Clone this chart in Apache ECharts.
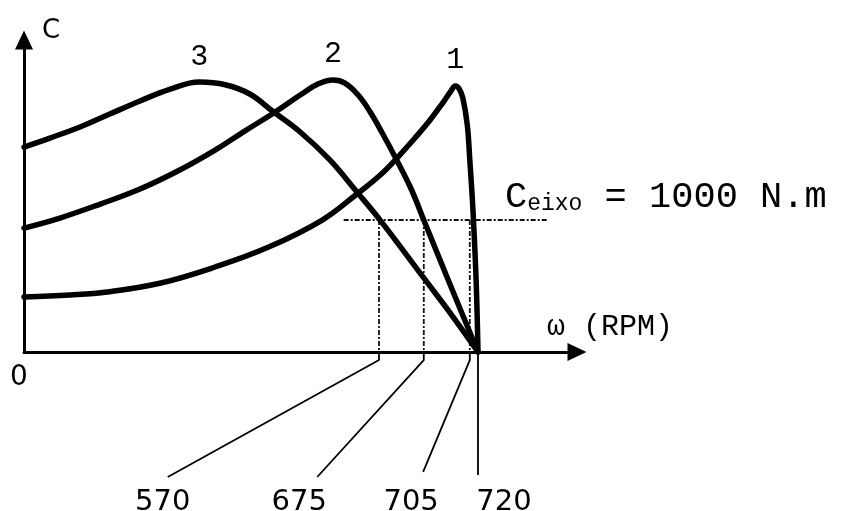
<!DOCTYPE html>
<html>
<head>
<meta charset="utf-8">
<script src="https://cdn.jsdelivr.net/npm/echarts@6/dist/echarts.min.js"></script>
<style>
html, body { margin: 0; background: #fff; }
#main { width: 841px; height: 511px; }
</style>
</head>
<body>
<div id="main"></div>
<script>
// torque (N.m) vs speed (RPM) - the figure is a sketch, not to scale
var curveNames = ['1', '2', '3'];
var curve1 = [[0,417],[73,432],[132,455],[217,523],[303,644],[388,795],[473,1000],[528,1197],[565,1341],
    [593,1477],[620,1621],[644,1758],[665,1894],[676,1970],[684,2015],[690,1995],[696,1924],[703,1720],
    [707,1455],[712,1076],[717,545],[720,0]];
var curve2 = [[0,939],[57,1015],[121,1121],[184,1235],[247,1379],[303,1530],[350,1674],[396,1811],
    [438,1947],[466,2030],[490,2061],[509,2038],[530,1947],[549,1818],[569,1652],[591,1455],[614,1235],
    [634,1000],[676,508],[720,0]];
var curve3 = [[0,1553],[41,1621],[89,1705],[136,1803],[184,1902],[232,1992],[278,2045],[319,2025],
    [358,1955],[396,1818],[438,1667],[485,1455],[528,1212],[566,992],[634,561],[676,295],[720,0]];

var loadTorque = 1000;
var loadLineX = [507, 831];

var speedLabels = ['570', '675', '705', '720'];
var speedDrawn = [563, 634, 707, 720];   // where the drops sit in the sketch

// leader lines below the axis (axis units), and label nudges
var leaderBend = -61;
var leaderEnds = [[228, -947], [465, -947], [633, -909], [720, -932]];
var leaderNudge = [[-5, 6], [-18, 6], [-12, 11], [26, 8]];

var myChart = echarts.init(document.getElementById('main'));

var black = '#000';
var mono = 'Liberation Mono';
var sans = 'DejaVu Sans';

var series = [];

// dashed load line with its text
series.push({
    type: 'line',
    data: [[loadLineX[0], loadTorque], {
        value: [loadLineX[1], loadTorque],
        label: {
            show: true,
            position: 'top',
            distance: 4,
            align: 'left',
            offset: [-43, 0],
            formatter: '{b|C}{s|eixo}{b| = 1000 N.m}',
            rich: {
                b: { fontFamily: mono, fontSize: 37, color: black },
                s: { fontFamily: mono, fontSize: 23, color: black, verticalAlign: 'bottom' }
            }
        }
    }],
    symbol: 'circle',
    symbolSize: 1,
    itemStyle: { color: 'transparent' },
    lineStyle: { color: '#111', width: 1.8, type: [5, 2, 2, 2] },
    silent: true,
    z: 1
});

// dashed drops from the load line down to the axis
for (var i = 0; i < 3; i++) {
    series.push({
        type: 'line',
        data: [[speedDrawn[i], loadTorque], [speedDrawn[i], 0]],
        symbol: 'none',
        lineStyle: { color: '#111', width: 1.8, type: [5, 2, 2, 2] },
        silent: true,
        z: 1
    });
}

// leader lines to the speed labels
speedLabels.forEach(function (lab, k) {
    series.push({
        type: 'line',
        clip: false,
        data: [[speedDrawn[k], 0], [speedDrawn[k], leaderBend], {
            value: leaderEnds[k],
            label: {
                show: true,
                position: 'bottom',
                distance: 4,
                offset: leaderNudge[k],
                formatter: lab,
                fontFamily: sans,
                fontSize: 29,
                color: black
            }
        }],
        symbol: 'circle',
        symbolSize: 1,
        itemStyle: { color: 'transparent' },
        lineStyle: { color: black, width: 1.8 },
        silent: true,
        z: 1
    });
});

// torque curves
[curve1, curve2, curve3].forEach(function (d, k) {
    series.push({
        name: curveNames[k],
        type: 'line',
        data: d,
        smooth: 0.4,
        symbol: 'none',
        lineStyle: { color: black, width: 5.5, cap: 'round', join: 'round' },
        markPoint: {
            symbol: 'circle',
            symbolSize: 1,
            itemStyle: { color: 'transparent' },
            data: [{ type: 'max', valueDim: 'y' }],
            label: {
                show: true,
                position: 'top',
                distance: 10,
                formatter: curveNames[k],
                fontFamily: mono,
                fontSize: 30,
                color: black
            }
        },
        silent: true,
        z: 3
    });
});

option = {
    backgroundColor: '#fff',
    animation: false,
    grid: { left: 24, right: 264, top: 40, bottom: 159 },
    xAxis: {
        type: 'value',
        min: 0,
        max: 877,
        name: 'ω (RPM)',
        nameLocation: 'end',
        nameGap: -30,
        nameTextStyle: {
            fontFamily: mono,
            fontSize: 30,
            color: black,
            align: 'left',
            verticalAlign: 'bottom',
            padding: [0, 0, 10, 0]
        },
        axisLine: {
            show: true,
            onZero: false,
            symbol: ['none', 'triangle'],
            symbolSize: [18, 19],
            lineStyle: { color: black, width: 3 }
        },
        axisTick: { show: false },
        splitLine: { show: false },
        axisLabel: {
            customValues: [0],
            margin: 12,
            fontFamily: sans,
            fontSize: 28,
            color: black,
            padding: [0, 10, 0, 0]
        }
    },
    yAxis: {
        type: 'value',
        min: 0,
        max: 2364,
        name: 'C',
        nameLocation: 'end',
        nameGap: 9,
        nameTextStyle: {
            fontFamily: sans,
            fontSize: 26,
            color: black,
            align: 'left',
            verticalAlign: 'middle',
            padding: [0, 0, 0, 18]
        },
        axisLine: {
            show: true,
            onZero: false,
            symbol: ['none', 'triangle'],
            symbolSize: [18, 19],
            lineStyle: { color: black, width: 3 }
        },
        axisTick: { show: false },
        splitLine: { show: false },
        axisLabel: { show: false }
    },
    series: series
};
myChart.setOption(option, true);
</script>
</body>
</html>
